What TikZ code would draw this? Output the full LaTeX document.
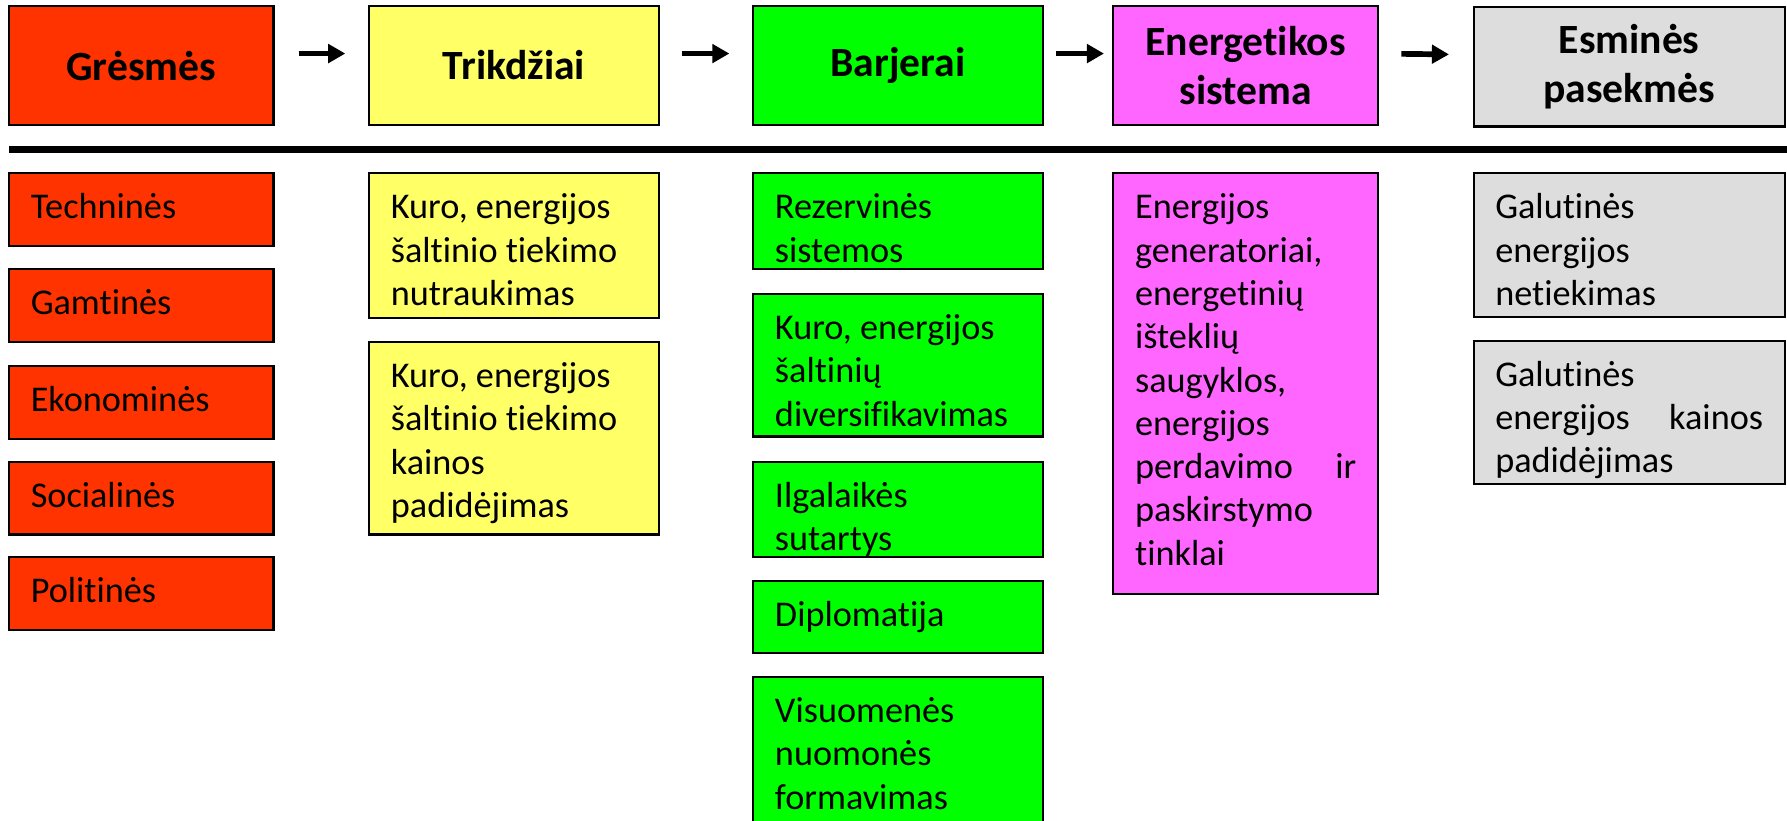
\documentclass[tikz,border=0pt]{standalone}
\usepackage{fontspec}
\setmainfont{Carlito}[Ligatures={NoCommon,NoContextual}]
\usetikzlibrary{arrows.meta}
\definecolor{cred}{HTML}{FF3300}
\definecolor{cyel}{HTML}{FFFF66}
\definecolor{cgrn}{HTML}{00FF00}
\definecolor{cmag}{HTML}{FF66FF}
\definecolor{cgry}{HTML}{DDDDDD}
\newcommand\bfnt{\fontsize{31.8}{38}\selectfont}
\newcommand\hfnt{\fontsize{36.5}{43}\selectfont\bfseries}
\tikzset{
  hdr/.style={draw=black, line width=1.8pt, anchor=north west, inner sep=0pt, outer sep=0pt,
    align=center, font=\hfnt, minimum height=105pt},
  bodybox/.style={draw=black, line width=1.8pt, anchor=north west, inner xsep=19pt,
    inner ysep=0pt, outer sep=0pt, font=\bfnt},
  arr/.style={line width=5pt, -{Triangle[length=15pt,width=16pt]}},
  rulebar/.style={line width=6.5pt},
}
% name, x, y(top), w, h, colour, text
\newcommand\tbox[7]{%
  \node[bodybox, fill=#6, minimum width=#4pt, minimum height=#5pt] (#1) at (#2,-#3)
    {\parbox[t][#5pt][t]{\dimexpr#4pt-38pt\relax}{\rule{0pt}{40pt}#7}};}
\begin{document}
\begin{tikzpicture}[x=1pt,y=1pt]
\clip (0,0) rectangle (1568,-720);
\fill[white] (0,0) rectangle (1568,-720);
% headers
\node[hdr, fill=cred, minimum width=232pt] (h1) at (8,-5) {Grėsmės};
\node[hdr, fill=cyel, minimum width=254pt] (h2) at (324,-5) {Trikdžiai};
\node[hdr, fill=cgrn, minimum width=254pt] (h3) at (661,-5) {Barjerai};
\node[hdr, fill=cmag, minimum width=232pt] (h4) at (977,-5) {Energetikos\\sistema};
\node[hdr, fill=cgry, minimum width=273pt] (h5) at (1293,-6) {Esminės\\pasekmės};
% arrows
\draw[arr, shorten <=22pt, shorten >=21pt] ([yshift=10.5pt]h1.east) -- ([yshift=10.5pt]h2.west);
\draw[arr, shorten <=20.5pt, shorten >=21pt] ([yshift=10.5pt]h2.east) -- ([yshift=10.5pt]h3.west);
\draw[arr, shorten <=11.6pt, shorten >=8.3pt] ([yshift=10.5pt]h3.east) -- ([yshift=10.5pt]h4.west);
\draw[arr, shorten <=20.6pt, shorten >=21.6pt] ([yshift=10.5pt]h4.east) -- ([yshift=10.5pt]h5.west);
% rule
\coordinate (rl) at (8,-131);
\coordinate (rr) at (1568,-131);
\draw[rulebar] (rl) -- (rr);
% red column
\tbox{r1}{8}{152}{232}{64}{cred}{Techninės}
\tbox{r2}{8}{236}{232}{64}{cred}{Gamtinės}
\tbox{r3}{8}{321}{232}{64}{cred}{Ekonominės}
\tbox{r4}{8}{405}{232}{64}{cred}{Socialinės}
\tbox{r5}{8}{489}{232}{64}{cred}{Politinės}
% yellow column
\tbox{y1}{324}{152}{254}{127}{cyel}{Kuro, energijos\\šaltinio tiekimo\\nutraukimas}
\tbox{y2}{324}{300}{254}{169}{cyel}{Kuro, energijos\\šaltinio tiekimo\\kainos\\padidėjimas}
% green column
\tbox{g1}{661}{152}{254}{84}{cgrn}{Rezervinės\\sistemos}
\tbox{g2}{661}{258}{254}{125}{cgrn}{Kuro, energijos\\šaltinių\\diversifikavimas}
\tbox{g3}{661}{405}{254}{84}{cgrn}{Ilgalaikės\\sutartys}
\tbox{g4}{661}{510}{254}{63}{cgrn}{Diplomatija}
\tbox{g5}{661}{594}{254}{140}{cgrn}{Visuomenės\\nuomonės\\formavimas}
% magenta column
\tbox{m1}{977}{152}{232}{369}{cmag}{Energijos\\generatoriai,\\energetinių\\išteklių\\saugyklos,\\energijos\\perdavimo\hfill ir\\paskirstymo\\tinklai}
% grey column
\tbox{e1}{1293}{152}{273}{126}{cgry}{Galutinės\\energijos\\netiekimas}
\tbox{e2}{1293}{299}{273}{126}{cgry}{Galutinės\\energijos\hfill kainos\\padidėjimas}
\end{tikzpicture}
\end{document}
